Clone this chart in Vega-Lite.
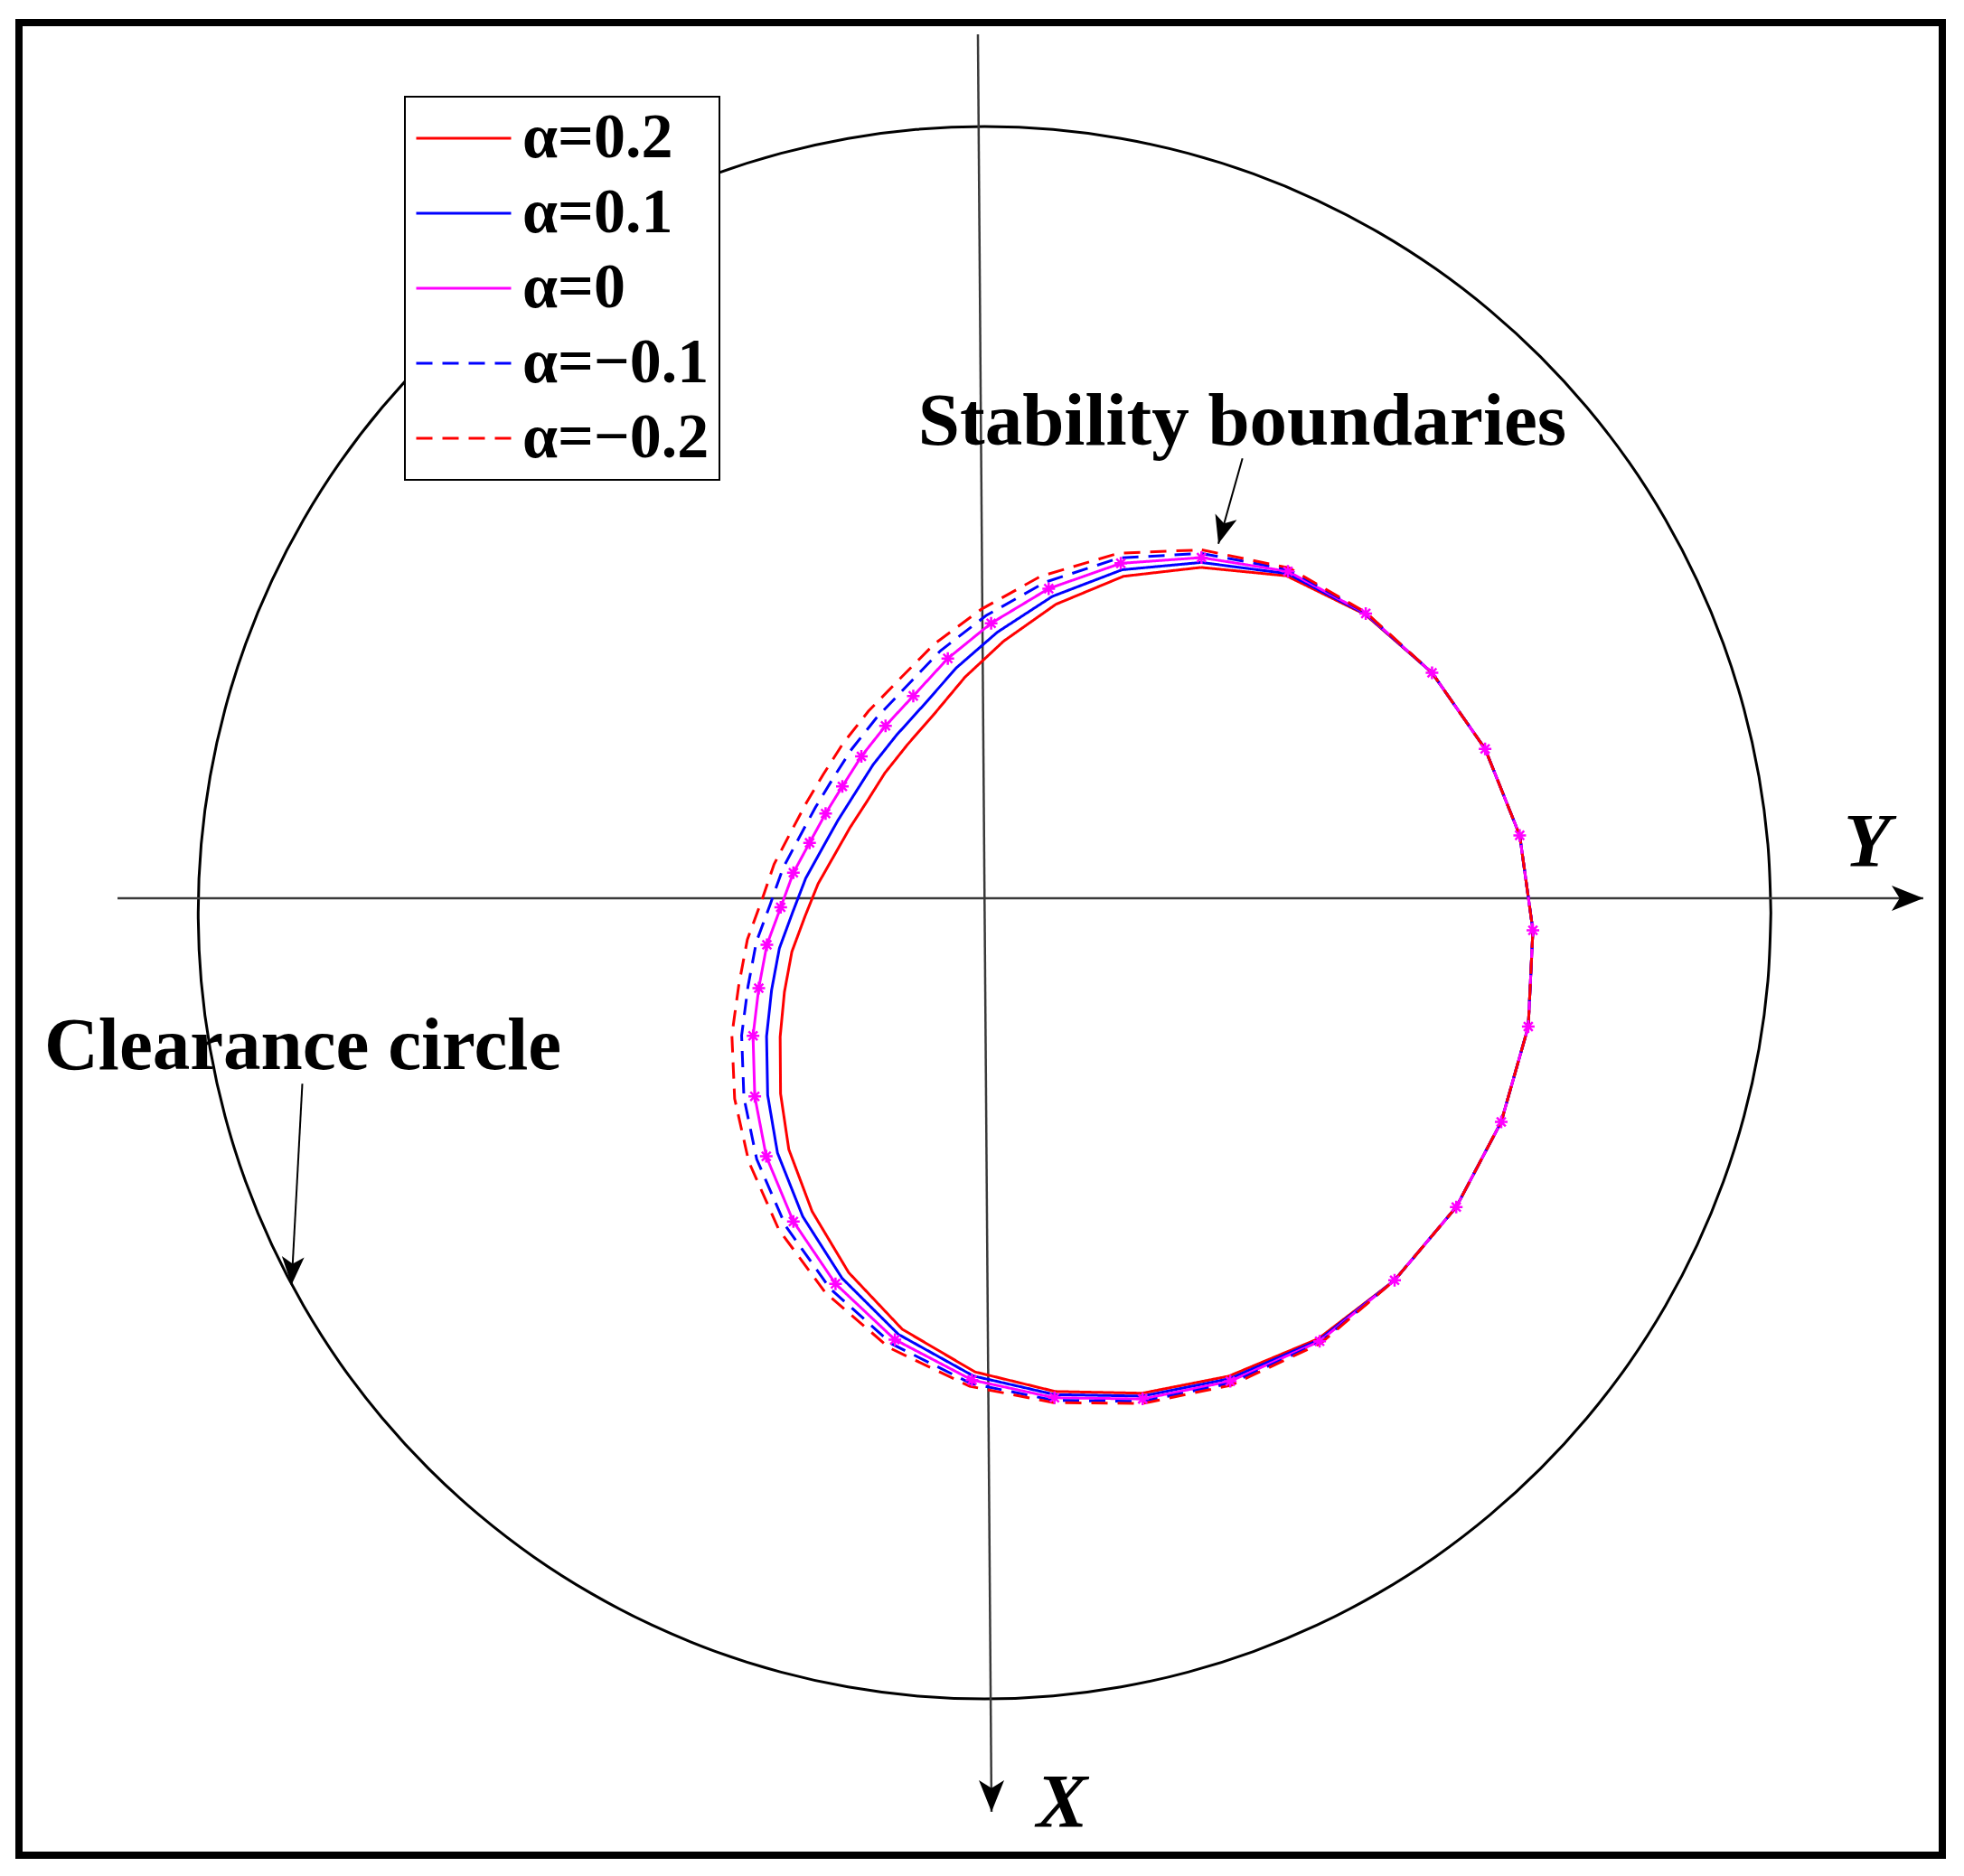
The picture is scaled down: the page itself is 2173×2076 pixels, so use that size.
{
  "$schema": "https://vega.github.io/schema/vega-lite/v6.json",
  "width": 2128,
  "height": 2028,
  "autosize": {"type": "none"},
  "padding": {"left": 21, "top": 25, "right": 24, "bottom": 23},
  "background": "white",
  "config": {
    "view": {"stroke": "black", "strokeWidth": 8},
    "legend": {
      "fillColor": "white",
      "strokeColor": "black",
      "strokeWidth": 2,
      "padding": 11,
      "symbolType": "stroke",
      "symbolSize": 11025,
      "symbolStrokeWidth": 3,
      "labelFont": "Liberation Serif",
      "labelFontSize": 70,
      "labelFontWeight": "bold",
      "labelColor": "black",
      "labelOffset": 11,
      "labelLimit": 600,
      "clipHeight": 70,
      "rowPadding": 13
    }
  },
  "datasets": {
    "circle": [
      {"i":0,"Y":1,"X":0},{"i":1,"Y":0.9962,"X":0.0872},{"i":2,"Y":0.9848,"X":0.1736},{"i":3,"Y":0.9659,"X":0.2588},{"i":4,"Y":0.9397,"X":0.342},{"i":5,"Y":0.9063,"X":0.4226},{"i":6,"Y":0.866,"X":0.5},{"i":7,"Y":0.8192,"X":0.5736},{"i":8,"Y":0.766,"X":0.6428},{"i":9,"Y":0.7071,"X":0.7071},{"i":10,"Y":0.6428,"X":0.766},{"i":11,"Y":0.5736,"X":0.8192},{"i":12,"Y":0.5,"X":0.866},{"i":13,"Y":0.4226,"X":0.9063},{"i":14,"Y":0.342,"X":0.9397},{"i":15,"Y":0.2588,"X":0.9659},{"i":16,"Y":0.1736,"X":0.9848},{"i":17,"Y":0.0872,"X":0.9962},{"i":18,"Y":0,"X":1},
      {"i":19,"Y":-0.0872,"X":0.9962},{"i":20,"Y":-0.1736,"X":0.9848},{"i":21,"Y":-0.2588,"X":0.9659},{"i":22,"Y":-0.342,"X":0.9397},{"i":23,"Y":-0.4226,"X":0.9063},{"i":24,"Y":-0.5,"X":0.866},{"i":25,"Y":-0.5736,"X":0.8192},{"i":26,"Y":-0.6428,"X":0.766},{"i":27,"Y":-0.7071,"X":0.7071},{"i":28,"Y":-0.766,"X":0.6428},{"i":29,"Y":-0.8192,"X":0.5736},{"i":30,"Y":-0.866,"X":0.5},{"i":31,"Y":-0.9063,"X":0.4226},{"i":32,"Y":-0.9397,"X":0.342},{"i":33,"Y":-0.9659,"X":0.2588},{"i":34,"Y":-0.9848,"X":0.1736},{"i":35,"Y":-0.9962,"X":0.0872},{"i":36,"Y":-1,"X":0},
      {"i":37,"Y":-0.9962,"X":-0.0872},{"i":38,"Y":-0.9848,"X":-0.1736},{"i":39,"Y":-0.9659,"X":-0.2588},{"i":40,"Y":-0.9397,"X":-0.342},{"i":41,"Y":-0.9063,"X":-0.4226},{"i":42,"Y":-0.866,"X":-0.5},{"i":43,"Y":-0.8192,"X":-0.5736},{"i":44,"Y":-0.766,"X":-0.6428},{"i":45,"Y":-0.7071,"X":-0.7071},{"i":46,"Y":-0.6428,"X":-0.766},{"i":47,"Y":-0.5736,"X":-0.8192},{"i":48,"Y":-0.5,"X":-0.866},{"i":49,"Y":-0.4226,"X":-0.9063},{"i":50,"Y":-0.342,"X":-0.9397},{"i":51,"Y":-0.2588,"X":-0.9659},{"i":52,"Y":-0.1736,"X":-0.9848},{"i":53,"Y":-0.0872,"X":-0.9962},{"i":54,"Y":0,"X":-1},
      {"i":55,"Y":0.0872,"X":-0.9962},{"i":56,"Y":0.1736,"X":-0.9848},{"i":57,"Y":0.2588,"X":-0.9659},{"i":58,"Y":0.342,"X":-0.9397},{"i":59,"Y":0.4226,"X":-0.9063},{"i":60,"Y":0.5,"X":-0.866},{"i":61,"Y":0.5736,"X":-0.8192},{"i":62,"Y":0.6428,"X":-0.766},{"i":63,"Y":0.7071,"X":-0.7071},{"i":64,"Y":0.766,"X":-0.6428},{"i":65,"Y":0.8192,"X":-0.5736},{"i":66,"Y":0.866,"X":-0.5},{"i":67,"Y":0.9063,"X":-0.4226},{"i":68,"Y":0.9397,"X":-0.342},{"i":69,"Y":0.9659,"X":-0.2588},{"i":70,"Y":0.9848,"X":-0.1736},{"i":71,"Y":0.9962,"X":-0.0872},{"i":72,"Y":1,"X":0}
    ],
    "guides": [
      {"g":"hAxis","i":0,"Y":-1.1026,"X":-0.0184},{"g":"hAxis","i":1,"Y":1.1939,"X":-0.0184},
      {"g":"vAxis","i":0,"Y":-0.0084,"X":-1.1172},{"g":"vAxis","i":1,"Y":0.0089,"X":1.1437}
    ],
    "pointers": [
      {"g":"aS","i":0,"Y":0.3280,"X":-0.5778},{"g":"aS","i":1,"Y":0.2974,"X":-0.4693},
      {"g":"aC","i":0,"Y":-0.8676,"X":0.2176},{"g":"aC","i":1,"Y":-0.8813,"X":0.4732}
    ],
    "heads": [
      {"h":"hAxis","Y":1.1939,"X":-0.0184},
      {"h":"vAxis","Y":0.0089,"X":1.1437},
      {"h":"aS","Y":0.2974,"X":-0.4693},
      {"h":"aC","Y":-0.8813,"X":0.4732}
    ],
    "labels": [
      {"t":"Stability boundaries","Y":0.3278,"X":-0.5954},
      {"t":"Clearance circle","Y":-0.8670,"X":0.1989}
    ],
    "axlabels": [
      {"t":"Y","Y":1.1226,"X":-0.0586},
      {"t":"X","Y":0.0985,"X":1.1632}
    ],
    "curves": [
      {"s":"α=0.2","i":1,"Y":0.2753,"X":-0.4392},{"s":"α=0.2","i":2,"Y":0.3840,"X":-0.4285},{"s":"α=0.2","i":3,"Y":0.4839,"X":-0.3794},{"s":"α=0.2","i":4,"Y":0.5691,"X":-0.3052},{"s":"α=0.2","i":5,"Y":0.6366,"X":-0.2084},{"s":"α=0.2","i":6,"Y":0.6806,"X":-0.0984},{"s":"α=0.2","i":7,"Y":0.6974,"X":0.0225},{"s":"α=0.2","i":8,"Y":0.6915,"X":0.1449},{"s":"α=0.2","i":9,"Y":0.6571,"X":0.2660},{"s":"α=0.2","i":10,"Y":0.5999,"X":0.3744},{"s":"α=0.2","i":11,"Y":0.5215,"X":0.4675},{"s":"α=0.2","i":12,"Y":0.4243,"X":0.5420},{"s":"α=0.2","i":13,"Y":0.3104,"X":0.5896},{"s":"α=0.2","i":14,"Y":0.2004,"X":0.6112},{"s":"α=0.2","i":15,"Y":0.0899,"X":0.6090},{"s":"α=0.2","i":16,"Y":-0.0122,"X":0.5841},{"s":"α=0.2","i":17,"Y":-0.1047,"X":0.5298},{"s":"α=0.2","i":18,"Y":-0.1728,"X":0.4577},{"s":"α=0.2","i":19,"Y":-0.2193,"X":0.3799},{"s":"α=0.2","i":20,"Y":-0.2489,"X":0.3010},{"s":"α=0.2","i":21,"Y":-0.2594,"X":0.2301},{"s":"α=0.2","i":22,"Y":-0.2599,"X":0.1579},{"s":"α=0.2","i":23,"Y":-0.2545,"X":0.1009},{"s":"α=0.2","i":24,"Y":-0.2450,"X":0.0496},{"s":"α=0.2","i":25,"Y":-0.2283,"X":0.0046},{"s":"α=0.2","i":26,"Y":-0.2117,"X":-0.0367},{"s":"α=0.2","i":27,"Y":-0.1916,"X":-0.0721},{"s":"α=0.2","i":28,"Y":-0.1711,"X":-0.1082},{"s":"α=0.2","i":29,"Y":-0.1497,"X":-0.1412},{"s":"α=0.2","i":30,"Y":-0.1268,"X":-0.1776},{"s":"α=0.2","i":31,"Y":-0.0980,"X":-0.2138},{"s":"α=0.2","i":32,"Y":-0.0647,"X":-0.2519},{"s":"α=0.2","i":33,"Y":-0.0247,"X":-0.2998},{"s":"α=0.2","i":34,"Y":0.0242,"X":-0.3453},{"s":"α=0.2","i":35,"Y":0.0908,"X":-0.3923},{"s":"α=0.2","i":36,"Y":0.1767,"X":-0.4279},{"s":"α=0.2","i":37,"Y":0.2753,"X":-0.4392},

      {"s":"α=0.1","i":1,"Y":0.2756,"X":-0.4455},{"s":"α=0.1","i":2,"Y":0.3850,"X":-0.4313},{"s":"α=0.1","i":3,"Y":0.4844,"X":-0.3800},{"s":"α=0.1","i":4,"Y":0.5691,"X":-0.3052},{"s":"α=0.1","i":5,"Y":0.6366,"X":-0.2084},{"s":"α=0.1","i":6,"Y":0.6806,"X":-0.0984},{"s":"α=0.1","i":7,"Y":0.6974,"X":0.0225},{"s":"α=0.1","i":8,"Y":0.6915,"X":0.1449},{"s":"α=0.1","i":9,"Y":0.6571,"X":0.2660},{"s":"α=0.1","i":10,"Y":0.5999,"X":0.3744},{"s":"α=0.1","i":11,"Y":0.5215,"X":0.4675},{"s":"α=0.1","i":12,"Y":0.4253,"X":0.5436},{"s":"α=0.1","i":13,"Y":0.3115,"X":0.5928},{"s":"α=0.1","i":14,"Y":0.2008,"X":0.6149},{"s":"α=0.1","i":15,"Y":0.0895,"X":0.6130},{"s":"α=0.1","i":16,"Y":-0.0141,"X":0.5893},{"s":"α=0.1","i":17,"Y":-0.1094,"X":0.5364},{"s":"α=0.1","i":18,"Y":-0.1812,"X":0.4649},{"s":"α=0.1","i":19,"Y":-0.2312,"X":0.3864},{"s":"α=0.1","i":20,"Y":-0.2633,"X":0.3055},{"s":"α=0.1","i":21,"Y":-0.2758,"X":0.2319},{"s":"α=0.1","i":22,"Y":-0.2772,"X":0.1573},{"s":"α=0.1","i":23,"Y":-0.2708,"X":0.0984},{"s":"α=0.1","i":24,"Y":-0.2609,"X":0.0453},{"s":"α=0.1","i":25,"Y":-0.2438,"X":-0.0011},{"s":"α=0.1","i":26,"Y":-0.2274,"X":-0.0438},{"s":"α=0.1","i":27,"Y":-0.2071,"X":-0.0805},{"s":"α=0.1","i":28,"Y":-0.1866,"X":-0.1172},{"s":"α=0.1","i":29,"Y":-0.1653,"X":-0.1510},{"s":"α=0.1","i":30,"Y":-0.1417,"X":-0.1883},{"s":"α=0.1","i":31,"Y":-0.1120,"X":-0.2258},{"s":"α=0.1","i":32,"Y":-0.0777,"X":-0.2638},{"s":"α=0.1","i":33,"Y":-0.0357,"X":-0.3116},{"s":"α=0.1","i":34,"Y":0.0163,"X":-0.3568},{"s":"α=0.1","i":35,"Y":0.0862,"X":-0.4023},{"s":"α=0.1","i":36,"Y":0.1750,"X":-0.4362},{"s":"α=0.1","i":37,"Y":0.2756,"X":-0.4455},

      {"s":"α=0","i":1,"Y":0.2759,"X":-0.4517},{"s":"α=0","i":2,"Y":0.3859,"X":-0.4341},{"s":"α=0","i":3,"Y":0.4848,"X":-0.3806},{"s":"α=0","i":4,"Y":0.5691,"X":-0.3052},{"s":"α=0","i":5,"Y":0.6366,"X":-0.2084},{"s":"α=0","i":6,"Y":0.6806,"X":-0.0984},{"s":"α=0","i":7,"Y":0.6974,"X":0.0225},{"s":"α=0","i":8,"Y":0.6915,"X":0.1449},{"s":"α=0","i":9,"Y":0.6571,"X":0.2660},{"s":"α=0","i":10,"Y":0.5999,"X":0.3744},{"s":"α=0","i":11,"Y":0.5215,"X":0.4675},{"s":"α=0","i":12,"Y":0.4262,"X":0.5452},{"s":"α=0","i":13,"Y":0.3125,"X":0.5959},{"s":"α=0","i":14,"Y":0.2011,"X":0.6185},{"s":"α=0","i":15,"Y":0.0890,"X":0.6170},{"s":"α=0","i":16,"Y":-0.0159,"X":0.5944},{"s":"α=0","i":17,"Y":-0.1140,"X":0.5430},{"s":"α=0","i":18,"Y":-0.1895,"X":0.4720},{"s":"α=0","i":19,"Y":-0.2431,"X":0.3928},{"s":"α=0","i":20,"Y":-0.2776,"X":0.3099},{"s":"α=0","i":21,"Y":-0.2922,"X":0.2337},{"s":"α=0","i":22,"Y":-0.2944,"X":0.1567},{"s":"α=0","i":23,"Y":-0.2871,"X":0.0959},{"s":"α=0","i":24,"Y":-0.2768,"X":0.0409},{"s":"α=0","i":25,"Y":-0.2592,"X":-0.0068},{"s":"α=0","i":26,"Y":-0.2431,"X":-0.0508},{"s":"α=0","i":27,"Y":-0.2225,"X":-0.0889},{"s":"α=0","i":28,"Y":-0.2021,"X":-0.1262},{"s":"α=0","i":29,"Y":-0.1808,"X":-0.1607},{"s":"α=0","i":30,"Y":-0.1566,"X":-0.1989},{"s":"α=0","i":31,"Y":-0.1259,"X":-0.2377},{"s":"α=0","i":32,"Y":-0.0906,"X":-0.2757},{"s":"α=0","i":33,"Y":-0.0467,"X":-0.3234},{"s":"α=0","i":34,"Y":0.0084,"X":-0.3682},{"s":"α=0","i":35,"Y":0.0816,"X":-0.4122},{"s":"α=0","i":36,"Y":0.1733,"X":-0.4444},{"s":"α=0","i":37,"Y":0.2759,"X":-0.4517},

      {"s":"α=−0.1","i":1,"Y":0.2762,"X":-0.4570},{"s":"α=−0.1","i":2,"Y":0.3867,"X":-0.4365},{"s":"α=−0.1","i":3,"Y":0.4852,"X":-0.3811},{"s":"α=−0.1","i":4,"Y":0.5691,"X":-0.3052},{"s":"α=−0.1","i":5,"Y":0.6366,"X":-0.2084},{"s":"α=−0.1","i":6,"Y":0.6806,"X":-0.0984},{"s":"α=−0.1","i":7,"Y":0.6974,"X":0.0225},{"s":"α=−0.1","i":8,"Y":0.6915,"X":0.1449},{"s":"α=−0.1","i":9,"Y":0.6571,"X":0.2660},{"s":"α=−0.1","i":10,"Y":0.5999,"X":0.3744},{"s":"α=−0.1","i":11,"Y":0.5215,"X":0.4675},{"s":"α=−0.1","i":12,"Y":0.4270,"X":0.5465},{"s":"α=−0.1","i":13,"Y":0.3134,"X":0.5985},{"s":"α=−0.1","i":14,"Y":0.2014,"X":0.6216},{"s":"α=−0.1","i":15,"Y":0.0886,"X":0.6204},{"s":"α=−0.1","i":16,"Y":-0.0175,"X":0.5987},{"s":"α=−0.1","i":17,"Y":-0.1179,"X":0.5485},{"s":"α=−0.1","i":18,"Y":-0.1965,"X":0.4780},{"s":"α=−0.1","i":19,"Y":-0.2531,"X":0.3982},{"s":"α=−0.1","i":20,"Y":-0.2897,"X":0.3136},{"s":"α=−0.1","i":21,"Y":-0.3060,"X":0.2352},{"s":"α=−0.1","i":22,"Y":-0.3089,"X":0.1562},{"s":"α=−0.1","i":23,"Y":-0.3008,"X":0.0938},{"s":"α=−0.1","i":24,"Y":-0.2902,"X":0.0372},{"s":"α=−0.1","i":25,"Y":-0.2722,"X":-0.0116},{"s":"α=−0.1","i":26,"Y":-0.2563,"X":-0.0567},{"s":"α=−0.1","i":27,"Y":-0.2355,"X":-0.0960},{"s":"α=−0.1","i":28,"Y":-0.2151,"X":-0.1338},{"s":"α=−0.1","i":29,"Y":-0.1939,"X":-0.1689},{"s":"α=−0.1","i":30,"Y":-0.1691,"X":-0.2078},{"s":"α=−0.1","i":31,"Y":-0.1376,"X":-0.2477},{"s":"α=−0.1","i":32,"Y":-0.1015,"X":-0.2857},{"s":"α=−0.1","i":33,"Y":-0.0559,"X":-0.3333},{"s":"α=−0.1","i":34,"Y":0.0018,"X":-0.3778},{"s":"α=−0.1","i":35,"Y":0.0777,"X":-0.4206},{"s":"α=−0.1","i":36,"Y":0.1719,"X":-0.4513},{"s":"α=−0.1","i":37,"Y":0.2762,"X":-0.4570},

      {"s":"α=−0.2","i":1,"Y":0.2764,"X":-0.4615},{"s":"α=−0.2","i":2,"Y":0.3874,"X":-0.4385},{"s":"α=−0.2","i":3,"Y":0.4855,"X":-0.3815},{"s":"α=−0.2","i":4,"Y":0.5691,"X":-0.3052},{"s":"α=−0.2","i":5,"Y":0.6366,"X":-0.2084},{"s":"α=−0.2","i":6,"Y":0.6806,"X":-0.0984},{"s":"α=−0.2","i":7,"Y":0.6974,"X":0.0225},{"s":"α=−0.2","i":8,"Y":0.6915,"X":0.1449},{"s":"α=−0.2","i":9,"Y":0.6571,"X":0.2660},{"s":"α=−0.2","i":10,"Y":0.5999,"X":0.3744},{"s":"α=−0.2","i":11,"Y":0.5215,"X":0.4675},{"s":"α=−0.2","i":12,"Y":0.4277,"X":0.5477},{"s":"α=−0.2","i":13,"Y":0.3141,"X":0.6008},{"s":"α=−0.2","i":14,"Y":0.2016,"X":0.6242},{"s":"α=−0.2","i":15,"Y":0.0883,"X":0.6232},{"s":"α=−0.2","i":16,"Y":-0.0188,"X":0.6024},{"s":"α=−0.2","i":17,"Y":-0.1213,"X":0.5533},{"s":"α=−0.2","i":18,"Y":-0.2025,"X":0.4832},{"s":"α=−0.2","i":19,"Y":-0.2617,"X":0.4029},{"s":"α=−0.2","i":20,"Y":-0.2998,"X":0.3168},{"s":"α=−0.2","i":21,"Y":-0.3178,"X":0.2365},{"s":"α=−0.2","i":22,"Y":-0.3213,"X":0.1558},{"s":"α=−0.2","i":23,"Y":-0.3125,"X":0.0920},{"s":"α=−0.2","i":24,"Y":-0.3016,"X":0.0341},{"s":"α=−0.2","i":25,"Y":-0.2833,"X":-0.0157},{"s":"α=−0.2","i":26,"Y":-0.2676,"X":-0.0618},{"s":"α=−0.2","i":27,"Y":-0.2466,"X":-0.1020},{"s":"α=−0.2","i":28,"Y":-0.2263,"X":-0.1402},{"s":"α=−0.2","i":29,"Y":-0.2051,"X":-0.1759},{"s":"α=−0.2","i":30,"Y":-0.1798,"X":-0.2155},{"s":"α=−0.2","i":31,"Y":-0.1477,"X":-0.2563},{"s":"α=−0.2","i":32,"Y":-0.1108,"X":-0.2943},{"s":"α=−0.2","i":33,"Y":-0.0639,"X":-0.3418},{"s":"α=−0.2","i":34,"Y":-0.0039,"X":-0.3861},{"s":"α=−0.2","i":35,"Y":0.0710,"X":-0.4277},{"s":"α=−0.2","i":36,"Y":0.1706,"X":-0.4573},{"s":"α=−0.2","i":37,"Y":0.2764,"X":-0.4615}
    ]
  },
  "encoding": {
    "x": {"field": "Y", "type": "quantitative", "scale": {"domain": [-1.22793, 1.21805], "nice": false, "zero": false}, "axis": null},
    "y": {"field": "X", "type": "quantitative", "scale": {"domain": [-1.13218, 1.19885], "reverse": true, "nice": false, "zero": false}, "axis": null}
  },
  "layer": [
    {
      "data": {"name": "circle"},
      "mark": {"type": "line", "color": "black", "strokeWidth": 3, "interpolate": "catmull-rom"},
      "encoding": {"order": {"field": "i", "type": "quantitative"}}
    },
    {
      "data": {"name": "guides"},
      "mark": {"type": "line", "color": "#3a3a3a", "strokeWidth": 2.5},
      "encoding": {"detail": {"field": "g"}, "order": {"field": "i", "type": "quantitative"}}
    },
    {
      "data": {"name": "pointers"},
      "mark": {"type": "line", "color": "black", "strokeWidth": 2},
      "encoding": {"detail": {"field": "g"}, "order": {"field": "i", "type": "quantitative"}}
    },
    {
      "data": {"name": "heads"},
      "transform": [{"filter": "datum.h == 'hAxis'"}],
      "mark": {"type": "point", "shape": "M0,0L-0.8,2L0,1.5L0.8,2Z", "filled": true, "color": "black", "opacity": 1, "size": 1225, "angle": 90}
    },
    {
      "data": {"name": "heads"},
      "transform": [{"filter": "datum.h == 'vAxis'"}],
      "mark": {"type": "point", "shape": "M0,0L-0.8,2L0,1.5L0.8,2Z", "filled": true, "color": "black", "opacity": 1, "size": 1225, "angle": 180}
    },
    {
      "data": {"name": "heads"},
      "transform": [{"filter": "datum.h == 'aS'"}],
      "mark": {"type": "point", "shape": "M0,0L-0.8,2L0,1.5L0.8,2Z", "filled": true, "color": "black", "opacity": 1, "size": 961, "angle": 195.8}
    },
    {
      "data": {"name": "heads"},
      "transform": [{"filter": "datum.h == 'aC'"}],
      "mark": {"type": "point", "shape": "M0,0L-0.8,2L0,1.5L0.8,2Z", "filled": true, "color": "black", "opacity": 1, "size": 961, "angle": 183.1}
    },
    {
      "data": {"name": "curves"},
      "mark": {"type": "line", "strokeWidth": 3},
      "encoding": {
        "color": {
          "field": "s", "type": "nominal",
          "scale": {"domain": ["α=0.2", "α=0.1", "α=0", "α=−0.1", "α=−0.2"], "range": ["#FF0000", "#0000FF", "#FF00FF", "#0000FF", "#FF0000"]},
          "legend": {"title": null, "orient": "none", "legendX": 427, "legendY": 82}
        },
        "strokeDash": {
          "field": "s", "type": "nominal",
          "scale": {"domain": ["α=0.2", "α=0.1", "α=0", "α=−0.1", "α=−0.2"], "range": [[1, 0], [1, 0], [1, 0], [18, 11], [18, 11]]},
          "legend": {"title": null, "orient": "none", "legendX": 427, "legendY": 82}
        },
        "order": {"field": "i", "type": "quantitative"}
      }
    },
    {
      "data": {"name": "curves"},
      "transform": [{"filter": "datum.s == 'α=0' && datum.i < 37"}],
      "mark": {"type": "point", "shape": "M-1,0L1,0M0,-1L0,1M-0.7,-0.7L0.7,0.7M-0.7,0.7L0.7,-0.7", "filled": false, "color": "#FF00FF", "strokeWidth": 2.5, "opacity": 1, "size": 196}
    },
    {
      "data": {"name": "labels"},
      "mark": {"type": "text", "font": "Liberation Serif", "fontSize": 83, "fontWeight": "bold", "align": "center", "baseline": "alphabetic", "color": "black"},
      "encoding": {"text": {"field": "t"}}
    },
    {
      "data": {"name": "axlabels"},
      "mark": {"type": "text", "font": "Liberation Serif", "fontSize": 85, "fontWeight": "bold", "fontStyle": "italic", "align": "center", "baseline": "alphabetic", "color": "black"},
      "encoding": {"text": {"field": "t"}}
    }
  ]
}
